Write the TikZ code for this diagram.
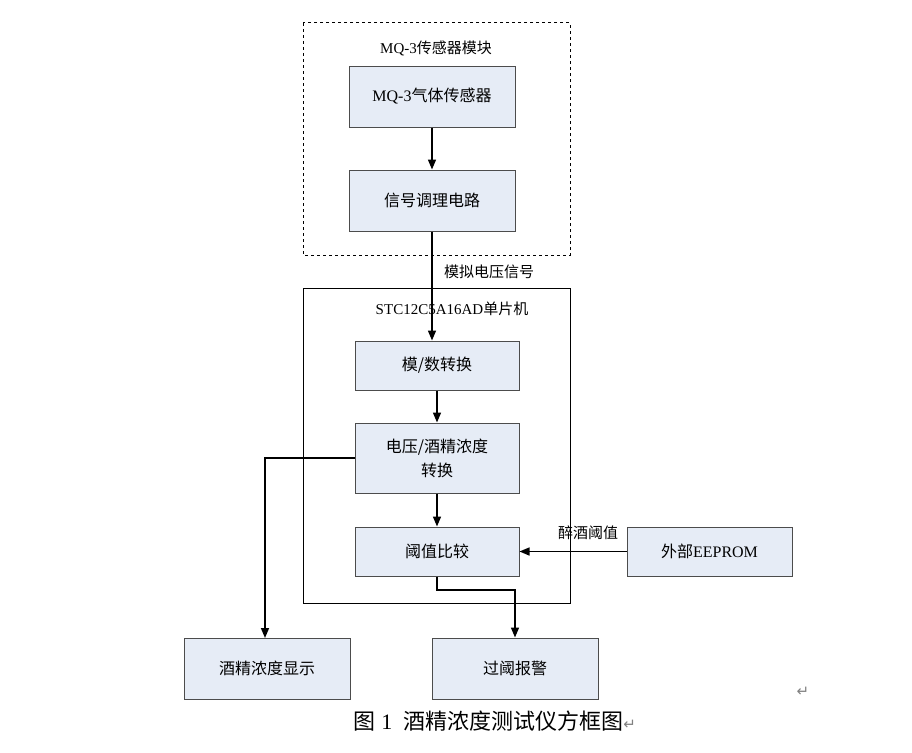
\documentclass[tikz,border=0pt]{standalone}
\usepackage{fontspec}
\setmainfont{Liberation Serif}
\newfontfamily\cjk{Noto Sans CJK SC}
\newfontfamily\sym{DejaVu Sans}
\usetikzlibrary{arrows.meta}
\definecolor{boxfill}{HTML}{E6ECF6}
\begin{document}
\begin{tikzpicture}[x=1pt,y=-1pt,
  blk/.style={draw=black!70,fill=boxfill,line width=1pt,inner sep=0pt,align=center,font=\fontsize{16}{24}\selectfont},
  arr/.style={-{Triangle[length=10pt,width=8pt]},line width=1.5pt},
  lbl/.style={font=\fontsize{15}{17}\selectfont,inner sep=1pt}]
\useasboundingbox (0,0) rectangle (912,752);
\draw[dashed,line width=1pt] (303,23) rectangle (570,255);
\node[lbl] (l1) at (436,48) {MQ-3{\cjk 传感器模块}};
\draw[line width=1pt] (303,288) rectangle (570,603);
\node[lbl] (l2) at (452,309) {STC12C5A16AD{\cjk 单片机}};
\node[blk,minimum width=166pt,minimum height=61pt] (mq) at (432,96.5) {MQ-3{\cjk 气体传感器}};
\node[blk,minimum width=166pt,minimum height=61pt] (sig) at (432,200.5) {\cjk 信号调理电路};
\node[blk,minimum width=164pt,minimum height=49pt] (ad) at (437,365.5) {\cjk 模/数转换};
\node[blk,minimum width=164pt,minimum height=70pt] (vc) at (437,458) {\cjk 电压/酒精浓度\\\cjk 转换};
\node[blk,minimum width=164pt,minimum height=49pt] (cmp) at (437,551.5) {\cjk 阈值比较};
\node[blk,minimum width=165pt,minimum height=49pt] (ee) at (709.5,551.5) {{\cjk 外部}EEPROM};
\node[blk,minimum width=166pt,minimum height=61pt] (disp) at (267,668.5) {\cjk 酒精浓度显示};
\node[blk,minimum width=166pt,minimum height=61pt] (alarm) at (515,668.5) {\cjk 过阈报警};
\draw[arr] (mq) -- (sig);
\draw[arr] (sig.south) -- (sig.south |- ad.north);
\node[lbl,anchor=west] (l3) at (443,272) {\cjk 模拟电压信号};
\draw[arr] (ad) -- (vc);
\draw[arr] (vc) -- (cmp);
\draw[arr] (vc.west) -- (265,458) -- (265,638);
\draw[arr] (cmp.south) -- (437,590) -- (515,590) -- (alarm.north);
\draw[arr] (ee) -- (cmp);
\node[lbl] (l4) at (588,533) {\cjk 醉酒阈值};
\node[font=\fontsize{22}{26}\selectfont] (cap) at (495,721) {{\cjk 图} 1\ \ {\cjk 酒精浓度测试仪方框图}{\sym\color{gray}\fontsize{15}{16}\selectfont ↵}};
\node[font=\sym\fontsize{15}{16}\selectfont,text=gray] (ret) at (803,692) {↵};
\end{tikzpicture}
\end{document}
